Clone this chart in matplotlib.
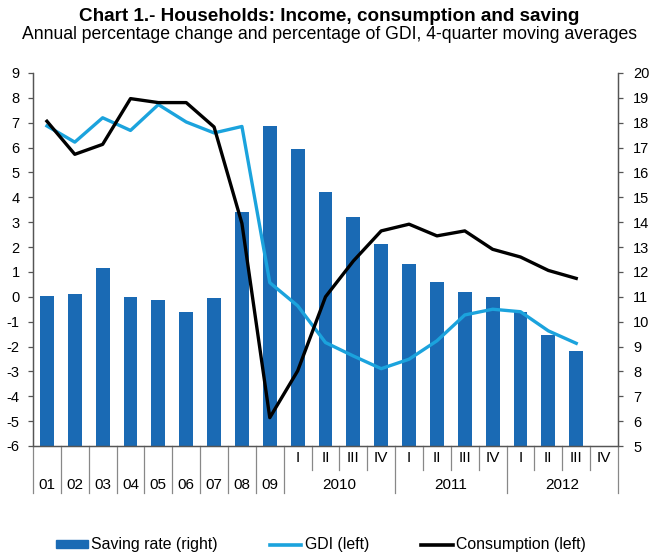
import matplotlib
matplotlib.use('Agg')
import matplotlib.pyplot as plt
import matplotlib.transforms as mtransforms
from matplotlib.patches import Patch
from matplotlib.lines import Line2D
import numpy as np

plt.rcParams['font.family'] = ['Liberation Sans', 'DejaVu Sans']
plt.rcParams['axes.unicode_minus'] = False

# categories: 9 years, then quarters of 2010-2012
annual_labels = ["01", "02", "03", "04", "05", "06", "07", "08", "09"]
quarter_labels = ["I", "II", "III", "IV"]
years = ["2010", "2011", "2012"]

# saving rate, % of GDI (right axis); 2012 IV not yet available
saving_rate = [11.04, 11.13, 12.16, 11.01, 10.87, 10.40, 10.95, 14.43, 17.87,
               16.95, 15.23, 14.22, 13.14,
               12.31, 11.59, 11.20, 11.00,
               10.40, 9.46, 8.83]
# annual % change (left axis)
gdi = [6.87, 6.22, 7.20, 6.69, 7.73, 7.03, 6.59, 6.85, 0.57,
       -0.36, -1.84, -2.38, -2.89,
       -2.51, -1.77, -0.73, -0.50,
       -0.60, -1.37, -1.87]
consumption = [7.06, 5.73, 6.13, 7.97, 7.81, 7.81, 6.83, 2.95, -4.86,
               -2.98, 0.0, 1.44, 2.65,
               2.92, 2.45, 2.65, 1.91,
               1.60, 1.06, 0.74]

n_cat = len(annual_labels) + len(years) * len(quarter_labels)
x = np.arange(len(saving_rate))

fig = plt.figure(figsize=(6.5, 5.59), dpi=100)
ax = fig.add_axes([33 / 650, 113 / 559, 585 / 650, 373 / 559])
ax2 = ax.twinx()

bar_col = "#1a6ab4"
gdi_col = "#1ba3dd"

ax2.bar(x, np.array(saving_rate) - 5, bottom=5, width=0.5, color=bar_col, zorder=2)
ax.plot(x, gdi, color=gdi_col, lw=2.4, zorder=3)
ax.plot(x, consumption, color="black", lw=2.4, zorder=4)

ax.set_zorder(ax2.get_zorder() + 1)
ax.patch.set_visible(False)

ax.set_xlim(-0.5, n_cat - 0.5)
ax.set_ylim(-6, 9)
ax2.set_ylim(5, 20)
ax.set_yticks(np.arange(-6, 10, 1))
ax2.set_yticks(np.arange(5, 21, 1))
ax.set_xticks([])

for a in (ax, ax2):
    a.spines['top'].set_visible(False)
    for s in a.spines.values():
        s.set_color("#555555")
        s.set_linewidth(0.9)
    a.tick_params(axis='y', direction='out', length=3.5, width=0.9, color="#555555",
                  labelsize=10.5)
ax.tick_params(axis='y', pad=6)
ax2.tick_params(axis='y', pad=7.5)

# category axis: labels and separators
trans = mtransforms.blended_transform_factory(ax.transData, ax.transAxes)
sep_kw = dict(transform=trans, clip_on=False, color="#888888", lw=0.9)
for i, lab in enumerate(annual_labels):
    ax.text(i, -0.105, lab, transform=trans, ha='center', va='center', fontsize=11)
    ax.plot([i - 0.5, i - 0.5], [0, -0.126], **sep_kw)
start = len(annual_labels)
for k, yr in enumerate(years):
    for q, ql in enumerate(quarter_labels):
        pos = start + k * 4 + q
        ax.text(pos, -0.032, ql, transform=trans, ha='center', va='center', fontsize=11)
        if q > 0:
            ax.plot([pos - 0.5, pos - 0.5], [0, -0.064], **sep_kw)
        else:
            ax.plot([pos - 0.5, pos - 0.5], [0, -0.126], **sep_kw)
    ax.text(start + k * 4 + 1.5, -0.105, yr, transform=trans, ha='center', va='center', fontsize=11)
ax.plot([n_cat - 0.5, n_cat - 0.5], [0, -0.126], **sep_kw)

fig.text(329 / 650, 1 - 20.7 / 559, "Chart 1.- Households: Income, consumption and saving",
         ha='center', va='baseline', fontsize=13.6, fontweight='bold')
fig.text(330 / 650, 1 - 39 / 559, "Annual percentage change and percentage of GDI, 4-quarter moving averages",
         ha='center', va='baseline', fontsize=12.7)

handles = [Patch(color=bar_col), Line2D([], [], color=gdi_col, lw=2.6),
           Line2D([], [], color="black", lw=2.6)]
labels = ["Saving rate (right)", "GDI (left)", "Consumption (left)"]
lgd = fig.legend(handles, labels, loc='center left', bbox_to_anchor=(56 / 650, 14 / 559),
                 ncol=3, frameon=False, fontsize=11.4, handlelength=2.0, borderpad=0,
                 borderaxespad=0, handletextpad=0.2, columnspacing=3.3, handleheight=0.45)

fig.savefig("out.png", dpi=100)
